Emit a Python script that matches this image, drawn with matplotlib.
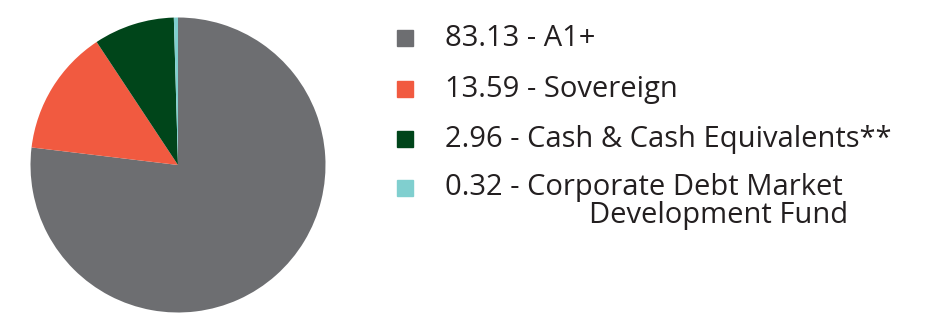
import matplotlib
matplotlib.use("Agg")
import matplotlib.pyplot as plt
from matplotlib.patches import Rectangle

# legend values as printed, slice shares as drawn in the picture
legend_values = ["83.13", "13.59", "2.96", "0.32"]
legend_names = ["A1+", "Sovereign", "Cash & Cash Equivalents**", "Corporate Debt Market"]
slice_shares = [76.9, 13.8, 8.85, 0.45]
colors = ["#6d6e71", "#f15a40", "#00451a", "#80cfcf"]

W, H = 934, 330
fig = plt.figure(figsize=(W / 100, H / 100), dpi=100)

# pie: centre (178,165), radius ~147.5 px
cx, cy, r = 178, 165, 147.5
ax = fig.add_axes([(cx - r) / W, (H - cy - r) / H, 2 * r / W, 2 * r / H])
ax.pie(slice_shares, colors=colors, startangle=90, counterclock=False,
       wedgeprops=dict(linewidth=0))
ax.set_aspect("auto")
ax.set_xlim(-1, 1)
ax.set_ylim(-1, 1)
ax.axis("off")

# legend rows
row_y = [38, 89, 139, 188]
txt_font = dict(family=["Open Sans", "DejaVu Sans"], fontsize=21, color="#231f20")
for y, v, name, c in zip(row_y, legend_values, legend_names, colors):
    fig.patches.append(Rectangle((397 / W, (H - y - 8) / H), 16 / W, 16 / H,
                                 transform=fig.transFigure, color=c))
    fig.text(445 / W, (H - y) / H, f"{v} - {name}", va="center", ha="left", **txt_font)
fig.text(589 / W, (H - 215) / H, "Development Fund", va="center", ha="left", **txt_font)

fig.savefig("out.png", dpi=100)
